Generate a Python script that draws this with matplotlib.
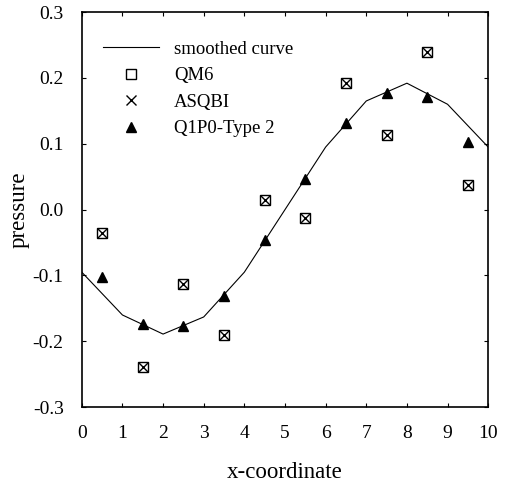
import matplotlib
matplotlib.use('Agg')
import matplotlib.pyplot as plt
from matplotlib.ticker import MultipleLocator

plt.rcParams['font.family'] = ['Liberation Serif', 'DejaVu Serif']

# smoothed curve, read at integer x
curve_x = [0, 1, 2, 3, 4, 5, 6, 7, 8, 9, 10]
curve_y = [-0.095, -0.160, -0.189, -0.163, -0.095, 0.0, 0.095, 0.165, 0.192, 0.160, 0.095]

# element centres
pts_x = [0.5, 1.5, 2.5, 3.5, 4.5, 5.5, 6.5, 7.5, 8.5, 9.5]
qm6 = [-0.035, -0.239, -0.113, -0.191, 0.014, -0.013, 0.192, 0.113, 0.240, 0.037]
asqbi = [-0.035, -0.239, -0.113, -0.191, 0.014, -0.013, 0.192, 0.113, 0.240, 0.037]
q1p0 = [-0.103, -0.173, -0.177, -0.131, -0.046, 0.046, 0.131, 0.177, 0.171, 0.103]

fig = plt.figure(figsize=(5.08, 4.83), dpi=100)
ax = fig.add_axes([0.161, 0.157, 0.800, 0.818])

ax.plot(curve_x, curve_y, color='black', lw=0.8, label='smoothed curve')
ax.plot(pts_x, qm6, ls='none', marker='s', mfc='none', mec='black', ms=6.5, mew=1.0, label='QM6')
ax.plot(pts_x, asqbi, ls='none', marker='x', color='black', ms=6.5, mew=1.0, label='ASQBI')
ax.plot(pts_x, q1p0, ls='none', marker='^', color='black', ms=7, label='Q1P0-Type 2')

ax.set_xlim(0, 10)
ax.set_ylim(-0.3, 0.3)
ax.xaxis.set_major_locator(MultipleLocator(1))
ax.yaxis.set_major_locator(MultipleLocator(0.1))
ax.yaxis.set_major_formatter(plt.FuncFormatter(lambda v, p: '%.1f' % v))
ax.tick_params(direction='in', top=True, right=True, length=3, width=0.8,
               labelsize=14, pad=13)
for s in ax.spines.values():
    s.set_linewidth(1.2)

ax.set_xlabel('x-coordinate', fontsize=16.5, labelpad=14)
ax.set_ylabel('pressure', fontsize=16.5, labelpad=2)

leg = ax.legend(loc='upper left', bbox_to_anchor=(0.01, 0.97), frameon=False,
                fontsize=13.5, handlelength=3.0, labelspacing=0.5, handletextpad=0.8)

fig.savefig('out.png', dpi=100)
